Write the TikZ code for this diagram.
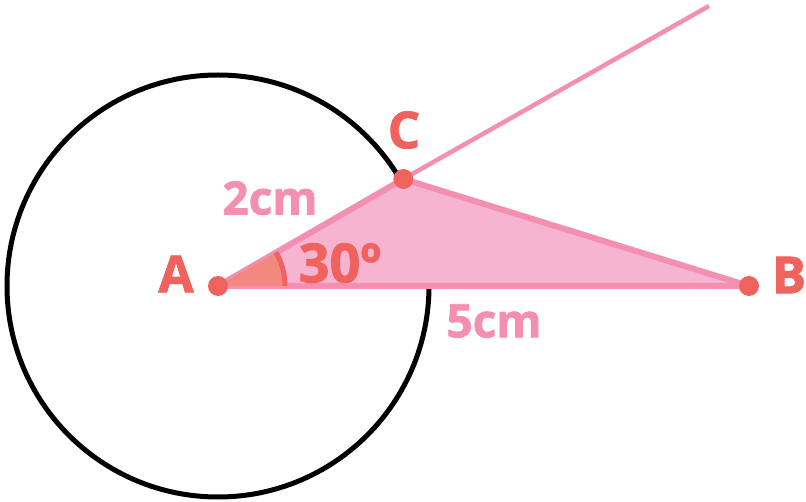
\documentclass[tikz,border=0pt]{standalone}
\usepackage{fontspec}
\setmainfont{Open Sans}[BoldFeatures={FakeBold=1.6}]
\usetikzlibrary{calc}
\definecolor{ptred}{HTML}{F0625D}
\definecolor{edgepink}{HTML}{F48FB1}
\definecolor{fillpink}{HTML}{F6B4D1}
\definecolor{wedgered}{HTML}{F2887F}

\tikzset{
  geoPt/.style={circle, fill=ptred, inner sep=0pt, minimum size=20pt},
  geoLab/.style={font=\fontsize{51}{51}\selectfont\bfseries, text=ptred, inner sep=0pt},
  geoLen/.style={font=\fontsize{46}{46}\selectfont\bfseries, text=edgepink, inner sep=0pt},
  geoEdge/.style={draw=edgepink, line width=6pt, line join=round},
  geoRay/.style={draw=edgepink, line width=4.5pt}
}

\begin{document}
\begin{tikzpicture}[x=1pt,y=-1pt]
    \useasboundingbox (0,0) rectangle (806,502);

    \coordinate (a) at (218,286);
    \coordinate (b) at (749,286);
    \coordinate (c) at ($(a)+(-30:214)$);
    \coordinate (rayEnd) at (709,6);

    % circle round A
    \draw[line width=5pt] (a) circle[radius=211];

    % triangle
    \filldraw[geoEdge, fill=fillpink] (a) -- (c) -- (b) -- cycle;
    \draw[geoRay] (c) -- (rayEnd);

    % angle at A
    \fill[wedgered] (a) -- ++(0:67) arc[start angle=0, end angle=-30, radius=67] -- cycle;
    \draw[ptred, line width=5pt] ($(a)+(0:67)$) arc[start angle=0, end angle=-30, radius=67];

    \node[geoPt] (ptA) at (a) {};
    \node[geoPt] (ptB) at (b) {};
    \node[geoPt] (ptC) at (c) {};

    \node[geoLab] (labA) at (176,274) {A};
    \node[geoLab] (labB) at (789,275) {B};
    \node[geoLab] (labC) at (404,130) {C};
    \node[geoLab, font=\fontsize{54}{54}\selectfont\bfseries] (labAng) at (340,263) {30º};

    \node[geoLen] (lenAC) at (270,198) {2cm};
    \node[geoLen] (lenAB) at (494,321) {5cm};
\end{tikzpicture}
\end{document}
